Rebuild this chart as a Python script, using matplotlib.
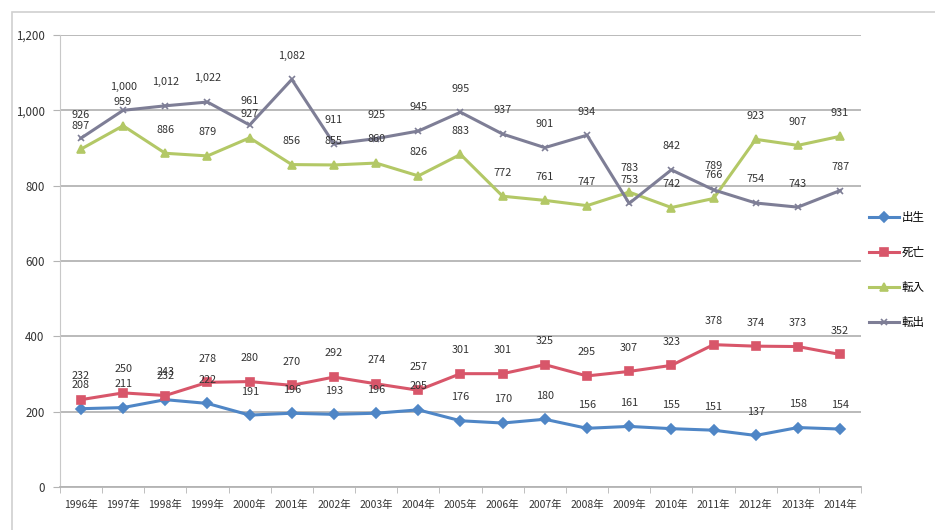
import matplotlib
matplotlib.use("Agg")
import matplotlib.pyplot as plt
from matplotlib.patches import Rectangle
from matplotlib.ticker import FuncFormatter, MultipleLocator, FixedLocator

plt.rcParams['font.family'] = ['Noto Sans CJK JP', 'DejaVu Sans']

years = [f"{y}年" for y in range(1996, 2015)]
births = [208, 211, 232, 222, 191, 196, 193, 196, 205, 176, 170, 180, 156, 161, 155, 151, 137, 158, 154]
deaths = [232, 250, 243, 278, 280, 270, 292, 274, 257, 301, 301, 325, 295, 307, 323, 378, 374, 373, 352]
moved_in = [897, 959, 886, 879, 927, 856, 855, 860, 826, 883, 772, 761, 747, 783, 742, 766, 923, 907, 931]
moved_out = [926, 1000, 1012, 1022, 961, 1082, 911, 925, 945, 995, 937, 901, 934, 753, 842, 789, 754, 743, 787]
series_names = ["出生", "死亡", "転入", "転出"]

series = [births, deaths, moved_in, moved_out]
colors = ["#4f86c6", "#d8566a", "#b3c866", "#7e7e96"]
markers = ["D", "s", "^", "x"]
msizes = [5, 5.5, 5.5, 5]

fig = plt.figure(figsize=(9.35, 5.3), dpi=100)
ax = fig.add_axes([0.064, 0.081, 0.857, 0.853])

x = list(range(len(years)))
for vals, c, m, ms, name in zip(series, colors, markers, msizes, series_names):
    ax.plot(x, vals, color=c, lw=2.2, marker=m, markersize=ms,
            markeredgecolor=c, markeredgewidth=1.2, label=name, zorder=3)

for vals in series:
    for xi, v in zip(x, vals):
        ax.annotate(f"{v:,}", (xi, v), xytext=(0, 17), textcoords="offset points",
                    ha="center", va="center", fontsize=7.8, color="#333333", zorder=5)

ax.set_xlim(-0.5, len(years) - 0.5)
ax.set_ylim(0, 1200)
ax.yaxis.set_major_locator(MultipleLocator(200))
ax.yaxis.set_major_formatter(FuncFormatter(lambda v, p: f"{int(v):,}"))
ax.grid(axis="y", color="#b4b4b4", lw=1.3, zorder=0)
ax.set_axisbelow(True)

ax.set_xticks(x)
ax.set_xticklabels(years, fontsize=7.5, color="#333333")
ax.xaxis.set_minor_locator(FixedLocator([i - 0.5 for i in range(len(years) + 1)]))
ax.tick_params(axis="x", which="major", length=0, pad=9)
ax.tick_params(axis="x", which="minor", length=4, color="#b4b4b4")
ax.tick_params(axis="y", length=5, color="#b4b4b4", labelsize=8.3, labelcolor="#333333", pad=6)

for side in ["top", "right"]:
    ax.spines[side].set_visible(False)
ax.spines["left"].set_color("#c8c8c8")
ax.spines["bottom"].set_color("#b4b4b4")
ax.spines["bottom"].set_linewidth(1.3)

fig.legend(loc="center left", bbox_to_anchor=(0.924, 0.49), frameon=False,
           fontsize=8.3, labelspacing=1.9, handlelength=2.6, handletextpad=0.3,
           borderaxespad=0)

fig.patches.append(Rectangle((0.013, -0.02), 1.0, 0.997, transform=fig.transFigure,
                             fill=False, edgecolor="#d0d0d0", lw=1.2))

fig.savefig("out.png", dpi=100, facecolor="white")
